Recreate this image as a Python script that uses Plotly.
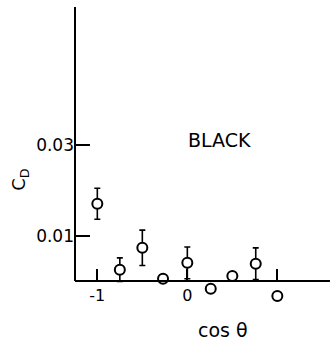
import plotly.graph_objects as go

# Data
cos_theta = [-1.0, -0.75, -0.50, -0.27, 0.0, 0.26, 0.50, 0.76, 1.0]
cd = [0.0170, 0.0025, 0.0073, 0.0005, 0.0040, -0.0017, 0.0011, 0.0038, -0.0033]
cd_err = [0.0034, 0.0026, 0.0039, None, 0.0035, None, None, 0.0035, None]

err_pts_x = [x for x, e in zip(cos_theta, cd_err) if e is not None]
err_pts_y = [y for y, e in zip(cd, cd_err) if e is not None]
err_vals = [e for e in cd_err if e is not None]

x_tickvals = [-1, 0]
x_ticktext = ["-1", "0"]
x_minor_ticks = [1]
y_tickvals = [0.01, 0.03]
y_ticktext = ["0.01", "0.03"]

Y_MIN, Y_MAX = -0.0055, 0.0603
X_MIN, X_MAX = -1.248, 1.585

FONT = "DejaVu Sans"
zero_frac = (0 - Y_MIN) / (Y_MAX - Y_MIN)

fig = go.Figure()
fig.add_trace(go.Scatter(
    x=err_pts_x, y=err_pts_y, mode="markers",
    marker=dict(size=1, color="rgba(0,0,0,0)"),
    error_y=dict(type="data", array=err_vals, visible=True,
                 color="black", thickness=1.6, width=3),
    showlegend=False, hoverinfo="skip"))
fig.add_trace(go.Scatter(
    x=cos_theta, y=cd, mode="markers",
    marker=dict(symbol="circle", size=10, color="white",
                line=dict(color="black", width=2)),
    showlegend=False))

fig.update_layout(
    width=330, height=344,
    margin=dict(l=75, r=0, t=7, b=37.5),
    paper_bgcolor="white", plot_bgcolor="white",
    font=dict(family=FONT, color="black", size=16),
    xaxis=dict(range=[X_MIN, X_MAX], showgrid=False, zeroline=False,
               anchor="free", position=zero_frac,
               showline=True, linecolor="black", linewidth=2,
               ticks="inside", ticklen=11, tickwidth=1.6, tickcolor="black",
               tickvals=x_tickvals, ticktext=x_ticktext,
               minor=dict(tickvals=x_minor_ticks, ticks="inside", ticklen=11,
                          tickwidth=1.6, tickcolor="black", showgrid=False),
               tickfont=dict(size=16, family=FONT)),
    yaxis=dict(range=[Y_MIN, Y_MAX], showgrid=False, zeroline=False,
               showline=False,
               ticks="inside", ticklen=15, tickwidth=1.6, tickcolor="black",
               tickvals=y_tickvals, ticktext=y_ticktext,
               tickfont=dict(size=17, family=FONT)),
    shapes=[dict(type="line", xref="paper", yref="y", x0=0, x1=0,
                 y0=0, y1=Y_MAX, line=dict(color="black", width=2))],
    annotations=[
        dict(text="BLACK", x=0.36, y=0.0311, xref="x", yref="y",
             showarrow=False, font=dict(size=19, family=FONT)),
        dict(text="cos θ", x=0.40, y=(306.5 - 331) / 299.5, xref="x", yref="paper",
             xanchor="center", yanchor="middle",
             showarrow=False, font=dict(size=19, family=FONT)),
        dict(text="C<sub>D</sub>", x=(20 - 75) / 255, y=(306.5 - 180) / 299.5,
             xref="paper", yref="paper", textangle=-90,
             xanchor="center", yanchor="middle",
             showarrow=False, font=dict(size=18, family=FONT)),
    ],
)

fig.write_html("out.html")
